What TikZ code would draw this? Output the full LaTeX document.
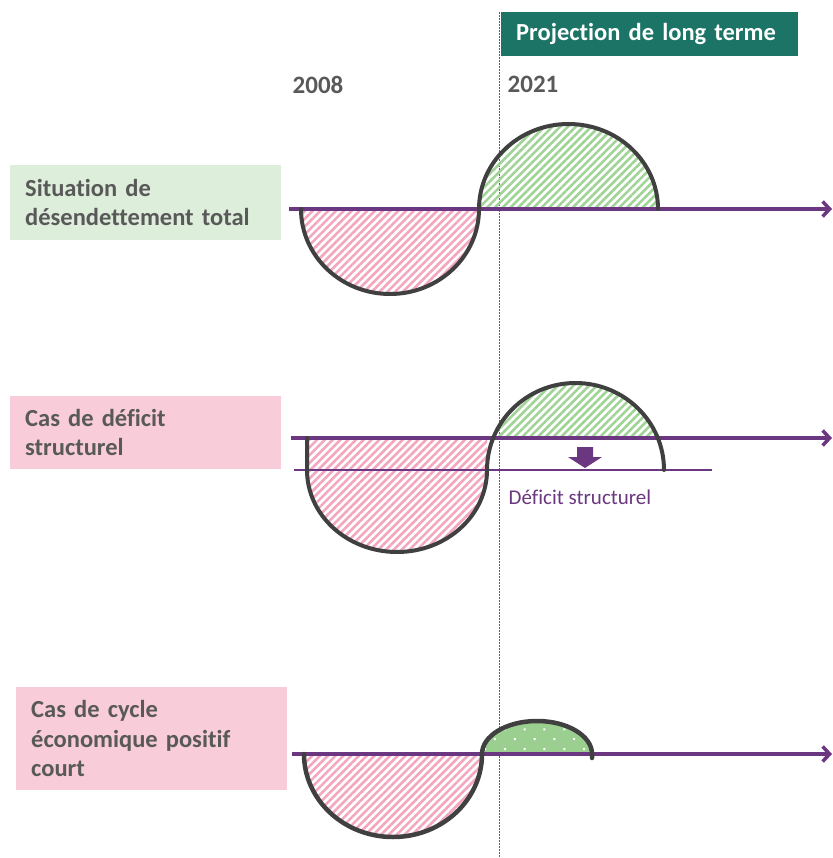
\documentclass[tikz,border=0pt]{standalone}
\usepackage{fontspec}
\setmainfont{Carlito}[Ligatures={NoCommon}]
\usetikzlibrary{patterns.meta,arrows.meta}
\definecolor{violet}{RGB}{106,55,128}
\definecolor{courbe}{RGB}{64,64,64}
\definecolor{rose}{RGB}{243,166,190}
\definecolor{vert}{RGB}{160,212,150}
\definecolor{vertplein}{RGB}{154,207,143}
\definecolor{fondrose}{RGB}{248,205,217}
\definecolor{fondvert}{RGB}{221,238,218}
\definecolor{sarcelle}{RGB}{27,116,102}
\definecolor{gristexte}{RGB}{89,89,89}
\definecolor{pointille}{RGB}{30,120,150}
\begin{document}
\begin{tikzpicture}[x=1pt, y=-1pt,
  cas/.style = {anchor=north west, text=gristexte, font=\bfseries\fontsize{24.5}{29.5}\selectfont, align=left, inner xsep=15pt, inner ysep=6pt, text width=241pt, minimum height=75pt},
  annee/.style = {text=gristexte, font=\bfseries\fontsize{25}{29}\selectfont},
  axeligne/.style = {draw=violet, line width=3.5pt, -{Straight Barb[length=7pt,width=15pt]}},
  courbe/.style = {draw=courbe, line width=4pt, line cap=round},
  hachrose/.style = {pattern={Lines[angle=45,distance=5.5pt,line width=2.6pt]}, pattern color=rose},
  hachvert/.style = {pattern={Lines[angle=45,distance=5.5pt,line width=2.6pt]}, pattern color=vert},
  points/.style = {preaction={fill=vertplein}, pattern={Dots[angle=45,distance=14pt,radius=1.4pt]}, pattern color=white}]
\useasboundingbox (0,0) rectangle (832,858);

% projection header, years and dotted 2021 marker
\node[fill=sarcelle, text=white, font=\bfseries\fontsize{24.5}{28}\selectfont, anchor=north west, minimum width=297pt, minimum height=44pt, text width=267pt, inner sep=15pt, inner ysep=0pt, align=left] (proj) at (501,12) {Projection de long terme};
\node[annee] (a2008) at (318,85) {2008};
\node[annee] (a2021) at (533,84) {2021};
\coordinate (m1) at (499,12);
\coordinate (m2) at (499,858);
\draw[pointille, line width=1pt, dash pattern=on 2pt off 1pt] (m1) -- (m2);

% case 1
\node[cas, fill=fondvert] (cas1) at (10,165) {Situation de\\d\'esendettement total};
\path[hachrose] (301,209) arc[start angle=180, end angle=0, x radius=89, y radius=85] -- cycle;
\path[hachvert] (480,209) arc[start angle=180, end angle=360, x radius=89.5, y radius=85] -- cycle;
\coordinate (d1) at (289,209);
\coordinate (f1) at (832,209);
\draw[axeligne] (d1) -- (f1);
\draw[courbe] (301,209) arc[start angle=180, end angle=0, x radius=89, y radius=85]
  arc[start angle=180, end angle=360, x radius=89.5, y radius=85];

% case 2
\node[cas, fill=fondrose, minimum height=73pt] (cas2) at (10,396) {Cas de d\'eficit\\structurel};
\path[hachrose] (307,438) -- (307,470) arc[start angle=180, end angle=0, x radius=90, y radius=82] -- (487,438) -- cycle;
\begin{scope}
  \clip (300,370) rectangle (700,438);
  \path[hachvert] (487,470) arc[start angle=180, end angle=360, x radius=88.5, y radius=87] -- cycle;
\end{scope}
\coordinate (d2) at (291,438);
\coordinate (f2) at (832,438);
\coordinate (b1) at (294,470);
\coordinate (b2) at (712,470);
\draw[axeligne] (d2) -- (f2);
\draw[violet, line width=2pt] (b1) -- (b2);
\draw[courbe] (307,438) -- (307,470) arc[start angle=180, end angle=0, x radius=90, y radius=82]
  arc[start angle=180, end angle=360, x radius=88.5, y radius=87];
\fill[violet] (577,447) -- (593,447) -- (593,457) -- (602,457) -- (585,468) -- (568,457) -- (577,457) -- cycle;
\node[text=violet, font=\fontsize{21}{24}\selectfont] (deficit) at (580,497) {D\'eficit structurel};

% case 3
\node[cas, fill=fondrose, minimum height=103pt] (cas3) at (16,687) {Cas de cycle\\\'economique positif\\court};
\path[hachrose] (304,754) arc[start angle=180, end angle=0, x radius=89, y radius=83] -- cycle;
\path[points] (482,754) arc[start angle=180, end angle=360, x radius=55, y radius=33] -- cycle;
\coordinate (d3) at (292,754);
\coordinate (f3) at (832,754);
\draw[axeligne] (d3) -- (f3);
\draw[courbe, line width=4.5pt] (304,754) arc[start angle=180, end angle=0, x radius=89, y radius=83]
  arc[start angle=180, end angle=360, x radius=55, y radius=33] -- ++(0,4);
\end{tikzpicture}
\end{document}
